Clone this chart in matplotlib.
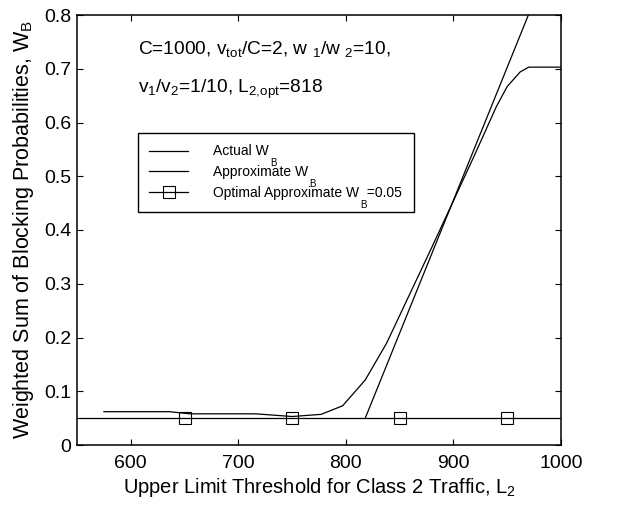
import matplotlib
matplotlib.use("Agg")
import matplotlib.pyplot as plt
import numpy as np

plt.rcParams["font.family"] = ["Liberation Sans", "DejaVu Sans"]
plt.rcParams["mathtext.fontset"] = "custom"
plt.rcParams["mathtext.rm"] = "Liberation Sans"
plt.rcParams["mathtext.it"] = "Liberation Sans:italic"

#
# Data
#
actual_L2 = [575, 636, 655, 716, 750, 777, 797, 818, 838, 858, 879, 899,
             920, 940, 950, 962, 970, 1000]
actual_wb = [0.062, 0.062, 0.058, 0.058, 0.053, 0.057, 0.073, 0.121, 0.190,
             0.275, 0.364, 0.450, 0.541, 0.630, 0.667, 0.694, 0.703, 0.703]

approx_L2 = [818, 1000]
approx_wb = [0.05, 0.95]

optimal_L2 = [550, 650, 750, 850, 950, 1000]
optimal_wb = [0.05, 0.05, 0.05, 0.05, 0.05, 0.05]
optimal_marks = [1, 2, 3, 4]

xticks = [600, 700, 800, 900, 1000]
yticks = [0, 0.1, 0.2, 0.3, 0.4, 0.5, 0.6, 0.7, 0.8]

# legend labels; the subscript B is drawn separately, dropped low like the original
leg_labels = ["Actual W", "Approximate W", "Optimal Approximate W  =0.05"]
leg_w_part = ["Actual W", "Approximate W", "Optimal Approximate W"]

#
# Plot
#
fig = plt.figure(figsize=(6.37, 5.14), dpi=100)
ax = fig.add_axes([77 / 637, 1 - 445 / 514, 484 / 637, 430 / 514])

ax.plot(actual_L2, actual_wb, color="k", lw=0.9, label=leg_labels[0])
ax.plot(approx_L2, approx_wb, color="k", lw=0.9, label=leg_labels[1])
ax.plot(optimal_L2, optimal_wb, color="k", lw=0.9, marker="s", markersize=8,
        markerfacecolor="none", markeredgewidth=0.8, markevery=optimal_marks,
        label=leg_labels[2])

ax.set_xlim(550, 1000)
ax.set_ylim(0, 0.8)
ax.set_xticks(xticks)
ax.set_yticks(yticks)
ax.set_yticklabels(["0" if v == 0 else f"{v:.1f}" for v in yticks])
ax.tick_params(direction="in", length=4, width=0.8, top=True, right=True,
               labelsize=14)
ax.tick_params(axis="x", pad=7)
ax.tick_params(axis="y", pad=4)
for s in ax.spines.values():
    s.set_linewidth(1.1)

ax.set_xlabel("Upper Limit Threshold for Class 2 Traffic, L$_{\\mathrm{2}}$",
              fontsize=14.5, labelpad=3)
ax.set_ylabel("Weighted Sum of Blocking Probabilities, W$_{\\mathrm{B}}$",
              fontsize=15.5, labelpad=6)

ax.text((138 - 77) / 484, 0.909,
        "C=1000, v$_{\\mathrm{tot}}$/C=2, w $_{\\mathrm{1}}$/w $_{\\mathrm{2}}$=10,",
        transform=ax.transAxes, fontsize=13.8, va="baseline")
ax.text((138 - 77) / 484, 0.8186,
        "v$_{\\mathrm{1}}$/v$_{\\mathrm{2}}$=1/10, L$_{\\mathrm{2{,}opt}}$=818",
        transform=ax.transAxes, fontsize=13.8, va="baseline")

leg = ax.legend(loc="upper left", bbox_to_anchor=((138 - 77) / 484, (445 - 133) / 430),
                borderaxespad=0, fontsize=10, fancybox=False, framealpha=1,
                edgecolor="k", handlelength=2.8, handletextpad=1.8,
                labelspacing=0.5, borderpad=0.82)
leg.get_frame().set_linewidth(1.0)

# subscript B of each legend entry, sitting about one row lower as in the original
fig.canvas.draw()
renderer = fig.canvas.get_renderer()
W, H = fig.bbox.width, fig.bbox.height
for txt, part in zip(leg.get_texts(), leg_w_part):
    bb = txt.get_window_extent(renderer)
    tmp = fig.text(0, 0, part, fontsize=10)
    wpart = tmp.get_window_extent(renderer).width
    tmp.remove()
    xb = bb.x0 + wpart + 4
    yb = (bb.y0 + bb.y1) / 2 - 12
    fig.text(xb / W, yb / H, "B", fontsize=7, ha="center", va="center",
             zorder=10)

plt.savefig("out.png", dpi=100)
